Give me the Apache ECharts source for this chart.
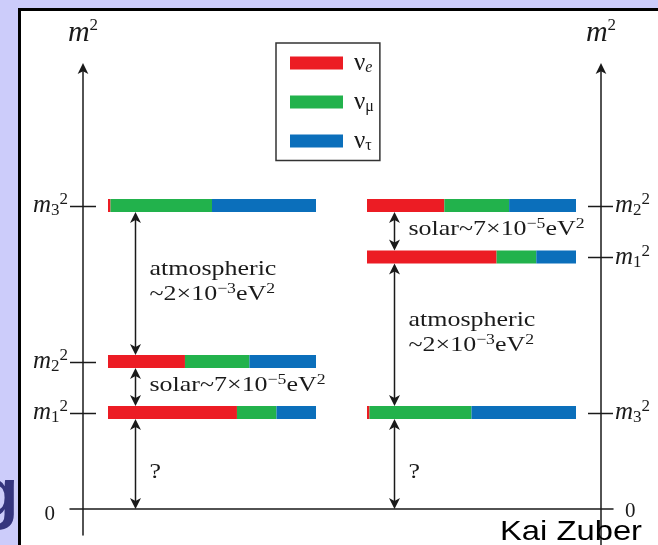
<!DOCTYPE html>
<html>
<head>
<meta charset="utf-8">
<script src="https://cdn.jsdelivr.net/npm/echarts@6.0.0/dist/echarts.min.js"></script>
<style>
html,body{margin:0;padding:0;background:#ccccfa;}
#chart{width:658px;height:545px;}
</style>
</head>
<body>
<div id="chart"></div>
<script>
// ---------------- data ----------------
const flavorNames = ['νe', 'νμ', 'ντ'];
const massStates = ['1', '2', '3'];
// flavour content (%) of mass states m1, m2, m3
const fracE   = [62, 37, 1.2];
const fracMu  = [19, 31, 48.8];
const fracTau = [19, 32, 50];
// m² levels (arbitrary units) for m1, m2, m3
const levelsNormal   = [0.965, 1.475, 3.035];
const levelsInverted = [2.52, 3.035, 0.965];
const zeroLabel = '0';
const axisTitleBase = 'm';
const axisTitleExp = '2';
const unknownLabel = '?';
const solarLabel = 'solar~7×10^−5^eV^2';
const atmLabel = 'atmospheric\n~2×10^−3^eV^2';
const gapLabels = [unknownLabel, solarLabel, atmLabel];
const creditText = 'Kai Zuber';

// ---------------- styling ----------------
const FR = [fracE, fracMu, fracTau];
const COLORS = ['#ec1c24', '#22b24c', '#0b6fbb'];
const SERIF = '"Liberation Serif", "DejaVu Serif", serif';
const INK = '#1a1a1a';
const BAR_H = 13;
const ARROW_POS = 13;   // % along the bar where gap arrows sit
const Y_MAX = 4.41;

function supRich(s) {
  return s.split('\n').map(line =>
    line.split('^').map((p, i) => p ? '{' + (i % 2 ? 'u' : 't') + '|' + p + '}' : '').join('')
  ).join('\n');
}
const TEXT_RICH = {
  t: {fontFamily: SERIF, fontSize: 22, lineHeight: 25, fill: INK},
  u: {fontFamily: SERIF, fontSize: 15, lineHeight: 12, verticalAlign: 'top', fill: INK}
};

function barData(levels, f) {
  return massStates.map((_, i) => {
    let s = 0;
    for (let k = 0; k < f; k++) s += FR[k][i];
    return [levels[i], s, s + FR[f][i]];
  });
}
function renderBar(params, api) {
  const p0 = api.coord([api.value(1), api.value(0)]);
  const p1 = api.coord([api.value(2), api.value(0)]);
  return {
    type: 'rect',
    shape: {x: p0[0], y: p0[1] - BAR_H / 2, width: p1[0] - p0[0], height: BAR_H},
    style: {fill: api.visual('color')}
  };
}
function renderArrow(params, api) {
  const lo = api.value(0), hi = api.value(1), li = api.value(2);
  const pLo = api.coord([ARROW_POS, lo]);
  const pHi = api.coord([ARROW_POS, hi]);
  const x = Math.round(pLo[0]) + 0.5;
  const yBot = pLo[1] - (lo === 0 ? 0 : BAR_H / 2);
  const yTop = pHi[1] + BAR_H / 2;
  const HL = 11, HW = 5.5, N = 3;
  const head = (tipY, dir) => ({
    type: 'polygon',
    shape: {points: [[x, tipY], [x - HW, tipY + dir * HL], [x, tipY + dir * (HL - N)], [x + HW, tipY + dir * HL]]},
    style: {fill: INK}
  });
  const mid = (yTop + yBot) / 2 + (li === 0 ? 8 : -2);
  return {
    type: 'group',
    children: [
      {type: 'line', shape: {x1: x, y1: yTop + 4, x2: x, y2: yBot - 4}, style: {stroke: INK, lineWidth: 1.5}},
      head(yTop, 1),
      head(yBot, -1),
      {
        type: 'text', x: x + 14, y: mid, scaleX: 1.18,
        style: {text: supRich(gapLabels[li]), rich: TEXT_RICH, align: 'left', verticalAlign: 'middle',
                fill: INK, fontFamily: SERIF, fontSize: 22}
      }
    ]
  };
}
function renderTick(side) {
  return function (params, api) {
    const p = api.coord([side === 'left' ? 0 : 1, api.value(0)]);
    const y = Math.round(p[1]) + 0.5;
    const x1 = side === 'left' ? p[0] : p[0] - 25;
    const x2 = side === 'left' ? p[0] + 26 : p[0];
    return {type: 'line', shape: {x1: x1, y1: y, x2: x2, y2: y}, style: {stroke: INK, lineWidth: 1.5}};
  };
}

const Ln = levelsNormal, Li = levelsInverted;
const arrowsNormal = [[0, Ln[0], 0], [Ln[0], Ln[1], 1], [Ln[1], Ln[2], 2]];
const arrowsInverted = [[0, Li[2], 0], [Li[0], Li[1], 1], [Li[2], Li[0], 2]];

function idxOf(levels, v) {
  for (let i = 0; i < levels.length; i++) if (Math.abs(levels[i] - v) < 1e-6) return i;
  return -1;
}
const massLabel = i => '{m|' + axisTitleBase + '}{b|' + massStates[i] + '}{p|2}';
function labelRich(zeroPad) {
  return {
    m: {fontFamily: SERIF, fontStyle: 'italic', fontSize: 25, lineHeight: 28, color: INK},
    b: {fontFamily: SERIF, fontSize: 17, lineHeight: 13, verticalAlign: 'bottom', color: INK},
    p: {fontFamily: SERIF, fontSize: 17, lineHeight: 13, verticalAlign: 'top', color: INK},
    z: {fontFamily: SERIF, fontSize: 21, color: INK, padding: zeroPad}
  };
}
const nameRich = {
  a: {fontFamily: SERIF, fontStyle: 'italic', fontSize: 30, lineHeight: 32, color: INK},
  q: {fontFamily: SERIF, fontSize: 17, lineHeight: 30, verticalAlign: 'top', color: INK}
};
const axisName = '{a|' + axisTitleBase + '}{q|' + axisTitleExp + '}';

function massAxis(gridIndex, levels, position, offset, min, zeroPad, margin) {
  return {
    gridIndex: gridIndex, type: 'value', min: min, max: Y_MAX, position: position, offset: offset,
    name: axisName, nameLocation: 'end', nameGap: 19, nameTextStyle: {rich: nameRich},
    axisLine: {show: true, onZero: false, symbol: ['none', 'arrow'], symbolSize: [8, 11],
               symbolOffset: [0, 5], lineStyle: {color: INK, width: 1.5}},
    axisTick: {show: false}, splitLine: {show: false},
    axisLabel: {
      show: true, margin: margin, customValues: [0].concat(levels),
      formatter: v => v === 0 ? '{z|' + zeroLabel + '}' : massLabel(idxOf(levels, v)),
      rich: labelRich(zeroPad)
    }
  };
}
const hiddenX = (g, max) => ({gridIndex: g, type: 'value', min: 0, max: max, show: false});
const hiddenY = (g) => ({gridIndex: g, type: 'value', min: -0.26, max: Y_MAX, show: false});

const series = [];
[[Ln, 2], [Li, 3]].forEach(([levels, ax]) => {
  flavorNames.forEach((name, f) => {
    series.push({
      name: name, type: 'custom', xAxisIndex: ax, yAxisIndex: ax, silent: true,
      itemStyle: {color: COLORS[f]}, data: barData(levels, f), renderItem: renderBar
    });
  });
});
series.push({type: 'custom', xAxisIndex: 2, yAxisIndex: 2, silent: true, data: arrowsNormal, renderItem: renderArrow});
series.push({type: 'custom', xAxisIndex: 3, yAxisIndex: 3, silent: true, data: arrowsInverted, renderItem: renderArrow});
series.push({type: 'custom', xAxisIndex: 0, yAxisIndex: 0, silent: true, data: Ln.map(v => [v]), renderItem: renderTick('left')});
series.push({type: 'custom', xAxisIndex: 1, yAxisIndex: 1, silent: true, data: Li.map(v => [v]), renderItem: renderTick('right')});

const option = {
  animation: false,
  backgroundColor: '#ccccfa',
  grid: [
    {left: 70, right: 45, top: 68, bottom: 10},
    {left: 70, right: 45, top: 68, bottom: 0},
    {left: 108, width: 208, top: 68, bottom: 10},
    {left: 367, width: 209, top: 68, bottom: 10}
  ],
  xAxis: [
    {gridIndex: 0, type: 'value', min: 0, max: 1,
     axisLine: {show: true, onZero: true, lineStyle: {color: INK, width: 1.5}},
     axisTick: {show: false}, axisLabel: {show: false}, splitLine: {show: false}},
    hiddenX(1, 1), hiddenX(2, 100), hiddenX(3, 100)
  ],
  yAxis: [
    massAxis(0, Ln, 'left', -13, -0.26, [10, 13, 0, 0], 15),
    massAxis(1, Li, 'right', -12, -0.36, [4, 0, 0, 10], 14),
    hiddenY(2), hiddenY(3)
  ],
  legend: {
    data: flavorNames, left: 276, top: 43, orient: 'vertical', icon: 'rect',
    itemWidth: 53, itemHeight: 13, itemGap: 13.5, padding: [7.5, 6, 6.5, 14],
    borderColor: '#333', borderWidth: 1.5, backgroundColor: '#fff', selectedMode: false,
    formatter: n => '{n|' + n[0] + '}{' + (n[1] === 'e' ? 'se' : 's') + '|' + n.slice(1) + '}',
    textStyle: {
      rich: {
        n: {fontFamily: SERIF, fontSize: 25, lineHeight: 26, color: INK, padding: [0, 0, 0, 6]},
        s: {fontFamily: SERIF, fontSize: 16, lineHeight: 12, verticalAlign: 'bottom', color: INK},
        se: {fontFamily: SERIF, fontStyle: 'italic', fontSize: 16, lineHeight: 12, verticalAlign: 'bottom', color: INK}
      }
    }
  },
  graphic: [
    {type: 'text', z: -20, x: -23, y: 497,
     style: {text: 'g', fontFamily: '"Liberation Sans", Arial, sans-serif', fontWeight: 'bold', fontSize: 68,
             fill: '#35357e', verticalAlign: 'middle'}},
    {type: 'rect', z: -10, shape: {x: 19.5, y: 9.5, width: 700, height: 600},
     style: {fill: '#ffffff', stroke: '#000000', lineWidth: 3}},
    {type: 'text', z: 10, x: 500, y: 532, scaleX: 1.17,
     style: {text: creditText, fontFamily: '"Liberation Sans", Arial, sans-serif', fontSize: 28,
             fill: '#000000', verticalAlign: 'middle'}}
  ],
  series: series
};

const chart = echarts.init(document.getElementById('chart'), null, {renderer: 'canvas'});
chart.setOption(option);
</script>
</body>
</html>
